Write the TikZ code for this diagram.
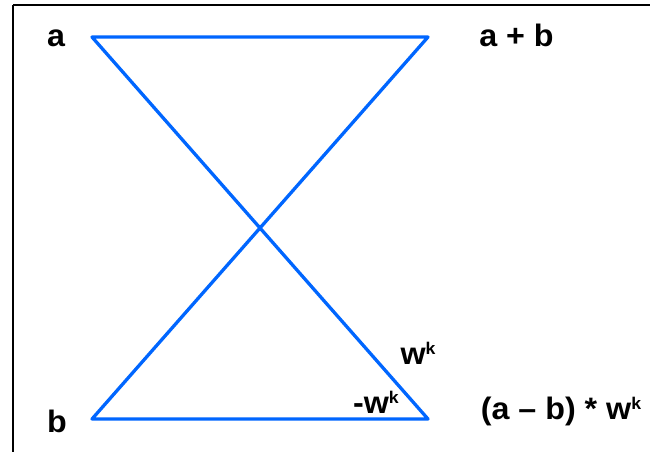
\documentclass[tikz,border=0pt]{standalone}
\usepackage{fontspec}
\setmainfont{Liberation Sans}
\definecolor{lineblue}{RGB}{0,102,255}
\newcommand\supk{\raisebox{10pt}{\fontsize{17}{17}\selectfont k}}
\newcommand\widetext[1]{\scalebox{1.04}[1]{#1}}
\begin{document}
\begin{tikzpicture}[x=1pt,y=-1pt,
  wire/.style={draw=lineblue,line width=3.3pt,line cap=round,line join=round},
  biglabel/.style={font=\fontsize{31}{34}\selectfont\bfseries,inner sep=0pt,anchor=base}]
\useasboundingbox (0,0) rectangle (650,451);
\draw[line width=2.5pt] (13,5) -- (654,5);
\draw[line width=2.5pt] (13,5) -- (13,455);
\coordinate (A) at (92,37);
\coordinate (AB) at (428,37);
\coordinate (B) at (92,419);
\coordinate (D) at (428,419);
\draw[wire] (A) -- (AB) -- (B) -- (D) -- cycle;
\node[biglabel] (la) at (56,46) {\widetext{a}};
\node[biglabel] (lab) at (516.5,46) {\widetext{a + b}};
\node[biglabel] (lb) at (57,432) {\widetext{b}};
\node[biglabel] (lres) at (561,419) {\widetext{(a – b) * w\supk}};
\node[biglabel] (lw) at (418,364) {\widetext{w\supk}};
\node[biglabel] (lmw) at (376,413) {\widetext{-w\supk}};
\end{tikzpicture}
\end{document}
